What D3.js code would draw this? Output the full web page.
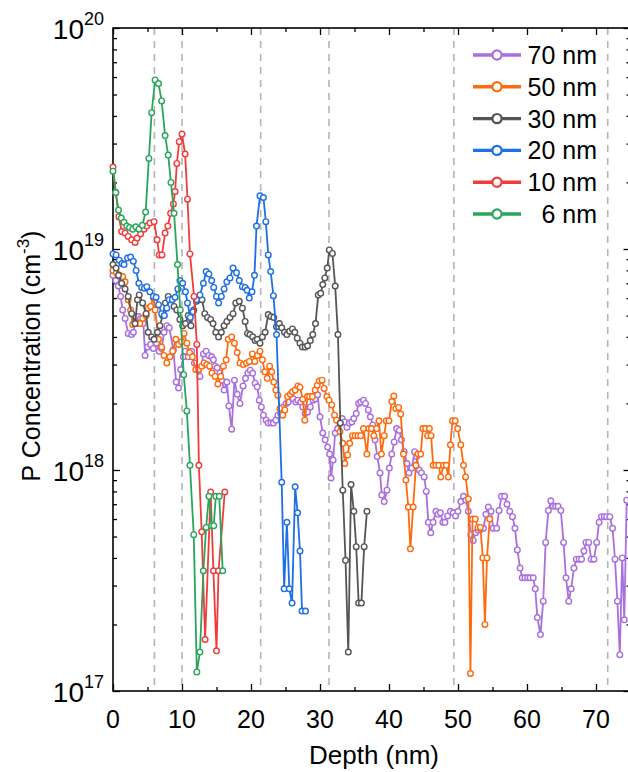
<!DOCTYPE html>
<html>
<head>
<meta charset="utf-8">
<script src="https://cdn.jsdelivr.net/npm/d3@7/dist/d3.min.js"></script>
<style>
  body { margin: 0; background: #fff; }
  svg { font-family: Arial, "Liberation Sans", sans-serif; }
</style>
</head>
<body>
<svg id="chart" width="628" height="772"></svg>
<script>
// depth (nm), P concentration in units of 1e18 cm^-3
var s70 = [[0.0,7.6],[0.4,7.2],[0.77,6.8],[1.1,6.1],[1.4,5.3],[1.75,4.85],[2.2,4.15],[2.7,4.1],[2.95,4.2],[3.35,4.95],[3.7,4.95],[4.0,4.85],[4.4,4.6],[4.65,3.3],[5.0,3.6],[5.45,3.7],[5.85,3.55],[6.3,3.75],[6.7,3.45],[7.05,3.55],[7.4,4.2],[7.8,4.5],[8.15,4.4],[8.75,3.5],[9.15,2.5],[9.5,2.35],[9.8,2.85],[10.2,3.25],[10.45,3.45],[10.9,3.25],[11.4,3.45],[11.8,3.05],[12.1,2.85],[12.6,2.65],[13.1,3.35],[13.5,3.45],[13.9,3.3],[14.3,3.25],[14.55,3.15],[14.8,2.95],[15.1,2.9],[15.5,2.75],[15.75,2.55],[16.1,2.3],[16.5,2.5],[16.8,1.95],[17.2,1.53],[17.6,2.55],[18.0,2.2],[18.4,2.0],[18.85,2.4],[19.2,2.6],[19.55,2.75],[19.9,2.83],[20.25,2.74],[20.6,2.47],[20.9,2.38],[21.2,2.07],[21.5,1.93],[21.8,1.77],[22.2,1.68],[22.5,1.63],[22.9,1.63],[23.25,1.63],[23.6,1.68],[23.9,1.77],[24.3,1.8],[24.7,1.93],[25.1,2.0],[25.4,2.03],[25.75,2.15],[26.1,2.1],[26.5,2.03],[26.8,2.07],[27.2,2.03],[27.5,1.93],[27.85,1.8],[28.2,1.83],[28.6,1.93],[29.0,2.07],[29.3,2.1],[29.65,2.19],[30.0,1.74],[30.4,1.47],[30.75,1.37],[31.1,1.27],[31.4,1.18],[31.6,0.92],[31.9,1.11],[32.2,1.47],[32.55,1.54],[32.9,1.63],[33.2,1.71],[33.55,1.65],[33.9,1.56],[34.25,1.63],[34.6,1.65],[34.9,1.71],[35.25,1.8],[35.6,2.0],[35.9,2.03],[36.3,2.07],[36.6,2.0],[37.0,1.87],[37.3,1.74],[37.65,1.6],[37.97,1.37],[38.3,1.15],[38.7,0.97],[38.95,0.77],[39.3,0.72],[39.7,0.81],[40.05,1.02],[40.4,1.18],[40.75,1.34],[41.1,1.54],[41.5,1.51],[41.8,1.37],[42.2,1.21],[42.6,1.07],[42.9,0.97],[43.3,1.02],[43.7,1.21],[44.0,1.15],[44.4,1.0],[44.7,0.97],[45.1,0.93],[45.4,0.8],[45.7,0.58],[46.05,0.52],[46.4,0.58],[46.8,0.65],[47.1,0.63],[47.45,0.64],[47.8,0.58],[48.1,0.58],[48.5,0.62],[48.9,0.65],[49.3,0.64],[49.65,0.62],[50.0,0.65],[50.4,0.72],[50.8,0.76],[51.15,0.73],[51.5,0.65],[51.85,0.51],[52.2,0.48],[52.55,0.52],[52.9,0.535],[53.3,0.54],[53.7,0.545],[54.05,0.63],[54.4,0.68],[54.8,0.65],[55.1,0.545],[55.6,0.545],[55.95,0.655],[56.3,0.76],[56.75,0.76],[57.1,0.7],[57.5,0.65],[57.9,0.615],[58.25,0.545],[58.6,0.435],[59.0,0.36],[59.3,0.325],[59.7,0.325],[60.1,0.325],[60.45,0.325],[60.9,0.325],[61.2,0.29],[61.5,0.215],[61.95,0.18],[62.35,0.255],[62.7,0.47],[63.1,0.655],[63.45,0.725],[63.8,0.685],[64.15,0.685],[64.5,0.685],[64.9,0.655],[65.3,0.47],[65.65,0.325],[66.05,0.255],[66.4,0.29],[66.8,0.36],[67.15,0.395],[67.55,0.395],[67.9,0.395],[68.25,0.43],[68.55,0.47],[68.95,0.47],[69.3,0.395],[69.7,0.395],[70.1,0.47],[70.45,0.58],[70.8,0.615],[71.2,0.615],[71.55,0.615],[72.0,0.615],[72.4,0.545],[72.75,0.395],[73.1,0.255],[73.45,0.146],[73.8,0.4],[74.1,0.21],[74.45,0.73]];

var s50 = [[0.0,8.0],[0.5,7.8],[0.95,7.6],[1.4,7.5],[1.75,7.1],[2.2,5.9],[2.55,5.3],[2.85,4.55],[3.2,4.6],[3.5,4.6],[3.9,4.6],[4.3,4.85],[4.8,5.0],[5.1,5.4],[5.45,5.5],[5.85,6.0],[6.1,5.3],[6.6,3.9],[7.05,3.6],[7.4,3.3],[7.8,3.05],[8.25,3.25],[8.65,3.45],[9.1,3.9],[9.5,3.7],[9.95,3.8],[10.3,4.15],[10.7,3.75],[11.1,3.4],[11.5,3.25],[12.0,2.85],[12.4,2.85],[12.85,2.95],[13.2,3.05],[13.6,3.0],[14.0,2.95],[14.35,2.75],[14.8,2.65],[15.2,2.45],[15.6,2.65],[16.0,2.95],[16.4,3.15],[16.7,3.9],[17.2,4.0],[17.6,3.75],[18.0,3.4],[18.4,3.05],[18.9,3.0],[19.35,3.05],[19.75,3.1],[20.2,3.35],[20.55,3.1],[20.95,3.3],[21.3,3.45],[21.65,3.15],[22.0,2.78],[22.35,2.6],[22.7,2.95],[23.0,2.78],[23.3,2.5],[23.6,2.3],[23.9,2.18],[24.2,1.9],[24.6,1.77],[24.9,1.87],[25.3,2.15],[25.7,2.2],[26.0,2.26],[26.4,2.3],[26.8,2.4],[27.1,2.37],[27.5,2.09],[27.8,1.68],[28.2,2.15],[28.5,2.15],[28.9,2.15],[29.3,2.3],[29.6,2.42],[29.9,2.53],[30.3,2.55],[30.6,2.34],[31.0,2.15],[31.3,2.07],[31.7,1.97],[32.1,1.77],[32.4,1.68],[32.9,1.49],[33.3,1.32],[33.6,1.07],[34.0,1.17],[34.3,1.32],[34.7,1.43],[35.1,1.43],[35.5,1.43],[35.9,1.43],[36.3,1.54],[36.8,1.18],[37.1,1.54],[37.45,1.54],[37.8,1.43],[38.2,1.54],[38.55,1.67],[38.9,1.18],[39.3,1.43],[39.6,1.67],[40.0,1.67],[40.4,2.04],[40.7,2.16],[41.0,1.9],[41.4,1.92],[41.7,1.79],[42.1,1.18],[42.45,0.9],[42.8,0.68],[43.1,0.44],[43.5,0.68],[43.9,1.05],[44.2,1.18],[44.6,1.18],[44.9,1.54],[45.3,1.54],[45.6,1.43],[45.85,1.54],[46.1,1.43],[46.4,1.05],[46.8,1.05],[47.2,1.05],[47.5,0.93],[47.9,1.05],[48.3,1.05],[48.6,0.93],[48.9,1.3],[49.2,1.67],[49.6,1.67],[49.95,1.54],[50.4,1.3],[50.8,1.05],[51.1,0.93],[51.5,0.74],[51.8,0.12],[52.1,0.6],[52.5,0.6],[52.9,0.55],[53.25,0.55],[53.6,0.4],[53.9,0.2],[54.2,0.4],[54.6,0.6]];

var s30 = [[0.0,8.5],[0.45,8.2],[0.8,7.6],[1.25,7.0],[1.75,6.6],[2.2,6.1],[2.7,5.1],[3.2,4.6],[3.55,5.9],[3.8,6.2],[4.3,5.7],[4.8,5.1],[5.1,4.2],[5.6,4.0],[5.95,3.9],[6.45,4.2],[6.8,4.5],[7.2,5.0],[7.6,5.7],[8.0,6.1],[8.45,5.9],[8.85,5.5],[9.25,5.3],[9.7,4.8],[10.1,4.5],[10.5,4.6],[10.9,5.0],[11.3,4.5],[11.7,5.3],[12.1,5.8],[12.5,6.1],[12.9,5.9],[13.3,5.1],[13.7,4.9],[14.15,4.8],[14.5,4.6],[14.9,4.2],[15.3,4.0],[15.7,4.2],[16.1,4.5],[16.5,4.7],[16.95,4.9],[17.4,5.1],[17.8,5.7],[18.3,5.8],[18.75,5.4],[19.15,4.7],[19.5,4.15],[19.85,4.1],[20.25,4.0],[20.6,3.85],[20.9,3.9],[21.3,3.75],[21.65,4.0],[22.05,4.2],[22.5,5.05],[22.9,4.95],[23.3,4.9],[23.7,4.45],[24.1,4.6],[24.45,4.4],[24.85,4.2],[25.2,4.1],[25.6,4.25],[26.0,4.35],[26.35,4.2],[26.7,3.95],[27.1,3.75],[27.45,3.6],[27.85,3.6],[28.2,3.65],[28.6,3.85],[28.95,4.1],[29.35,4.6],[29.75,6.2],[30.1,6.3],[30.4,6.9],[30.7,7.4],[31.05,8.2],[31.35,9.9],[31.8,9.55],[32.2,6.8],[32.6,4.1],[32.95,1.63],[33.3,0.81],[33.7,0.39],[34.1,0.15],[34.5,0.86],[34.9,0.65],[35.25,0.45],[35.6,0.25],[36.0,0.25],[36.4,0.45],[36.8,0.65]];

var s20 = [[0.0,9.5],[0.45,9.4],[0.9,8.9],[1.3,8.6],[1.6,8.5],[2.1,9.1],[2.55,9.2],[2.95,8.8],[3.35,8.0],[3.75,7.0],[4.15,6.7],[4.55,6.65],[4.9,6.75],[5.35,6.4],[5.85,6.1],[6.25,6.05],[6.6,5.6],[7.05,5.1],[7.45,5.0],[7.8,5.4],[8.15,5.9],[8.6,5.9],[9.0,6.05],[9.4,6.6],[9.7,7.2],[10.1,7.0],[10.5,6.4],[10.8,5.7],[11.2,4.9],[11.6,5.2],[12.1,5.9],[12.6,6.2],[13.1,7.0],[13.5,7.9],[13.9,7.7],[14.3,7.2],[14.6,6.7],[15.0,6.1],[15.3,5.7],[15.7,6.1],[16.1,6.6],[16.5,7.1],[16.95,7.4],[17.4,8.2],[17.9,7.8],[18.3,7.2],[18.75,6.75],[19.15,6.7],[19.45,6.5],[19.75,6.0],[20.15,6.4],[20.5,7.6],[20.8,12.7],[21.3,17.4],[21.8,17.1],[22.15,13.3],[22.5,9.4],[22.85,7.9],[23.25,6.15],[23.7,4.1],[24.45,0.88],[24.8,0.29],[25.2,0.58],[25.55,0.29],[25.95,0.25],[26.4,0.84],[26.75,0.64],[27.1,0.43],[27.4,0.23],[27.9,0.23]];

var s10 = [[0.0,23.5],[0.4,18],[0.85,14],[1.25,12],[1.75,11.8],[2.2,11.4],[2.7,11],[3.2,10.7],[3.5,11.2],[4.0,11.7],[4.5,12.3],[4.9,12.7],[5.35,13.1],[5.95,13.3],[6.4,11],[6.7,9.4],[7.1,9.4],[7.55,11.8],[7.95,12.7],[8.35,14.5],[8.75,16],[9.0,18.2],[9.25,24.4],[9.6,30.6],[10.0,33.1],[10.45,26.9],[10.8,16.8],[11.15,9.5],[11.75,6.1],[12.15,3.7],[12.45,1.05],[12.85,0.525],[13.35,0.171],[14.15,0.795],[14.55,0.35],[15.0,0.152],[15.3,0.35],[16.2,0.795]];

var s6 = [[0.0,22.5],[0.4,18],[0.8,15],[1.2,13.8],[1.6,13.2],[2.0,12.7],[2.4,12.5],[2.85,12.3],[3.3,12.6],[3.75,12.3],[4.25,12.8],[4.73,14.7],[5.2,25.7],[5.6,41.4],[6.1,58.2],[6.6,56.1],[7.05,46.8],[7.55,32.6],[8.0,26.6],[8.4,20],[8.85,14.5],[9.35,8.5],[9.75,5.3],[10.25,2.7],[10.7,1.85],[11.15,1.05],[11.7,0.51],[12.15,0.122],[12.6,0.15],[13.1,0.35],[13.5,0.55],[13.9,0.76],[14.3,0.56],[14.6,0.56],[14.9,0.76],[15.4,0.76],[15.9,0.35]];

var seriesNames = ['70 nm', '50 nm', '30 nm', '20 nm', '10 nm', '6 nm'];
var seriesData = [s70, s50, s30, s20, s10, s6];
var seriesColors = ['#a96fdf', '#ff6a0e', '#555555', '#1f6fe5', '#f23b3b', '#2aa65c'];

var guideDepths = [6.0, 10.0, 21.4, 31.3, 49.4, 71.7];
var xMajor = [0, 10, 20, 30, 40, 50, 60, 70];
var xMinor = [5, 15, 25, 35, 45, 55, 65, 75];
var yMajor = [1e17, 1e18, 1e19, 1e20];
var yExp = ['17', '18', '19', '20'];

var plotL = 113, plotR = 630.5, plotT = 28, plotB = 691;

var svg = d3.select('#chart');

var x = d3.scaleLinear().domain([0, 75]).range([plotL, plotR]);
var y = d3.scaleLog().domain([1e17, 1e20]).range([plotB, plotT]);

var yMinor = [];
[1e17, 1e18, 1e19].forEach(function(b){
	[2,3,4,5,6,7,8,9].forEach(function(m){ yMinor.push(b*m); });
});

// dashed guides
svg.append('g').selectAll('line').data(guideDepths).join('line')
	.attr('x1', function(d){ return x(d); })
	.attr('x2', function(d){ return x(d); })
	.attr('y1', plotT).attr('y2', plotB)
	.attr('stroke', '#b5b5b5')
	.attr('stroke-width', 1.6)
	.attr('stroke-dasharray', '7,6');

// ticks (inward) on all four sides
function tickAxis(axis, vals, size, tr) {
	var g = svg.append('g').attr('transform', tr)
		.call(axis.tickValues(vals).tickSizeInner(size).tickSizeOuter(0).tickFormat(''));
	g.select('.domain').remove();
	g.selectAll('line').attr('stroke', '#000').attr('stroke-width', 1.3);
	return g;
}
tickAxis(d3.axisBottom(x), xMajor, -7, 'translate(0,' + plotB + ')');
tickAxis(d3.axisBottom(x), xMinor, -4, 'translate(0,' + plotB + ')');
tickAxis(d3.axisTop(x), xMajor, -7, 'translate(0,' + plotT + ')');
tickAxis(d3.axisTop(x), xMinor, -4, 'translate(0,' + plotT + ')');
tickAxis(d3.axisLeft(y), yMajor, -7, 'translate(' + plotL + ',0)');
tickAxis(d3.axisLeft(y), yMinor, -4, 'translate(' + plotL + ',0)');
tickAxis(d3.axisRight(y), yMajor, -7, 'translate(' + plotR + ',0)');
tickAxis(d3.axisRight(y), yMinor, -4, 'translate(' + plotR + ',0)');

// x tick labels
svg.append('g').selectAll('text').data(xMajor).join('text')
	.attr('x', function(d){ return x(d); })
	.attr('y', plotB + 37)
	.attr('text-anchor', 'middle')
	.style('font-size', '25px')
	.text(function(d){ return d; });

// y tick labels 10^n
var yl = svg.append('g').selectAll('text').data(yMajor).join('text')
	.attr('x', 104)
	.attr('y', function(d){ return y(d) + 11; })
	.attr('text-anchor', 'end')
	.style('font-size', '28px');
yl.append('tspan').text('10');
yl.append('tspan').attr('dy', -14).style('font-size', '18px').text(function(d, i){ return yExp[i]; });

// frame
svg.append('rect')
	.attr('x', plotL).attr('y', plotT)
	.attr('width', plotR - plotL).attr('height', plotB - plotT)
	.attr('fill', 'none').attr('stroke', '#000').attr('stroke-width', 1.6);

// series
var line = d3.line()
	.x(function(d){ return x(d[0]); })
	.y(function(d){ return y(d[1] * 1e18); });

seriesData.forEach(function(data, i){
	var g = svg.append('g');
	g.append('path').datum(data)
		.attr('d', line)
		.attr('fill', 'none')
		.attr('stroke', seriesColors[i])
		.attr('stroke-width', 1.8);
	g.selectAll('circle').data(data).join('circle')
		.attr('cx', function(d){ return x(d[0]); })
		.attr('cy', function(d){ return y(d[1] * 1e18); })
		.attr('r', 2.8)
		.attr('fill', '#fff')
		.attr('stroke', seriesColors[i])
		.attr('stroke-width', 1.4);
});

// legend
var legend = svg.append('g').selectAll('g').data(seriesNames).join('g')
	.attr('transform', function(d, i){ return 'translate(0,' + (55 + i * 31.8) + ')'; });
legend.append('line')
	.attr('x1', 473).attr('x2', 521).attr('y1', 0).attr('y2', 0)
	.attr('stroke', function(d, i){ return seriesColors[i]; })
	.attr('stroke-width', 3.4);
legend.append('circle')
	.attr('cx', 497).attr('cy', 0).attr('r', 4.6)
	.attr('fill', '#fff')
	.attr('stroke', function(d, i){ return seriesColors[i]; })
	.attr('stroke-width', 2.2);
legend.append('text')
	.attr('x', 597).attr('y', 9)
	.attr('text-anchor', 'end')
	.style('font-size', '25px')
	.text(function(d){ return d; });

// axis titles
svg.append('text')
	.attr('x', 374).attr('y', 764)
	.attr('text-anchor', 'middle')
	.style('font-size', '26px')
	.text('Depth (nm)');

var yt = svg.append('text')
	.attr('transform', 'translate(40,356) rotate(-90)')
	.attr('text-anchor', 'middle')
	.style('font-size', '25px');
yt.append('tspan').text('P Concentration (cm');
yt.append('tspan').attr('dy', -11).style('font-size', '17px').text('-3');
yt.append('tspan').attr('dy', 11).text(')');
</script>
</body>
</html>
